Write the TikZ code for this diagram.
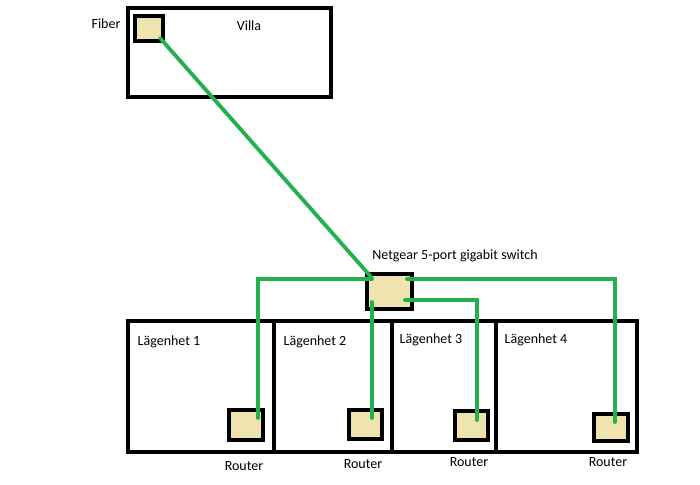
\documentclass[tikz,border=0pt]{standalone}
\usepackage{fontspec}
\setmainfont{Carlito}
\definecolor{paintgreen}{RGB}{34,177,76}
\definecolor{paintbeige}{RGB}{239,228,176}
\begin{document}
\begin{tikzpicture}[x=1pt,y=-1pt,
  box/.style={draw=black,line width=3.6pt,fill=white,inner sep=0pt,outer sep=0pt},
  dev/.style={draw=black,line width=3.6pt,fill=paintbeige,inner sep=0pt,outer sep=0pt},
  lbl/.style={inner sep=0pt,font=\fontsize{14}{16}\selectfont},
  cable/.style={draw=paintgreen,line width=3.8pt,line cap=round}]
\useasboundingbox[fill=white] (0,0) rectangle (700,484);
% Villa
\node[box,minimum width=203pt,minimum height=89pt] (villa) at (229.5,52.5) {};
\node[dev,minimum width=28pt,minimum height=25pt] (fiber) at (149,28.5) {};
\node[lbl] (villatxt) at (249,26) {Villa};
\node[lbl] (fibertxt) at (106,24) {Fiber};
% apartments
\node[box,minimum width=146pt,minimum height=131pt] (lg1) at (201,386.5) {};
\node[box,minimum width=118pt,minimum height=131pt] (lg2) at (333,386.5) {};
\node[box,minimum width=104pt,minimum height=131pt] (lg3) at (444,386.5) {};
\node[box,minimum width=141pt,minimum height=131pt] (lg4) at (566.5,386.5) {};
\node[lbl] (t1) at (169,342) {Lägenhet 1};
\node[lbl] (t2) at (315,342) {Lägenhet 2};
\node[lbl] (t3) at (431,340) {Lägenhet 3};
\node[lbl] (t4) at (536,340) {Lägenhet 4};
% devices
\node[dev,minimum width=45pt,minimum height=35pt] (sw) at (389.5,291.5) {};
\node[lbl] (swtxt) at (455,256) {Netgear 5-port gigabit switch};
\node[dev,minimum width=34pt,minimum height=30pt] (r1) at (246,425) {};
\node[dev,minimum width=33pt,minimum height=29pt] (r2) at (365.5,424.5) {};
\node[dev,minimum width=33pt,minimum height=29pt] (r3) at (471.5,425.5) {};
\node[dev,minimum width=34pt,minimum height=27pt] (r4) at (611,427.5) {};
\node[lbl] (rt1) at (244,466) {Router};
\node[lbl] (rt2) at (363,464) {Router};
\node[lbl] (rt3) at (469,462) {Router};
\node[lbl] (rt4) at (608,462) {Router};
% cable end points
\coordinate (fp) at (160,38);
\coordinate (s0) at (372,278);
\coordinate (s1) at (372,279);
\coordinate (s2) at (407,279);
\coordinate (s3) at (372,302);
\coordinate (s4) at (405,300);
\coordinate (p1) at (258,418);
\coordinate (p2) at (372,418);
\coordinate (p3) at (477,420);
\coordinate (p4) at (615,422);
% cables
\draw[cable] (fp) -- (s0);
\draw[cable] (s1) -| (p1);
\draw[cable] (s2) -| (p4);
\draw[cable] (s3) -- (p2);
\draw[cable] (s4) -| (p3);
\end{tikzpicture}
\end{document}
